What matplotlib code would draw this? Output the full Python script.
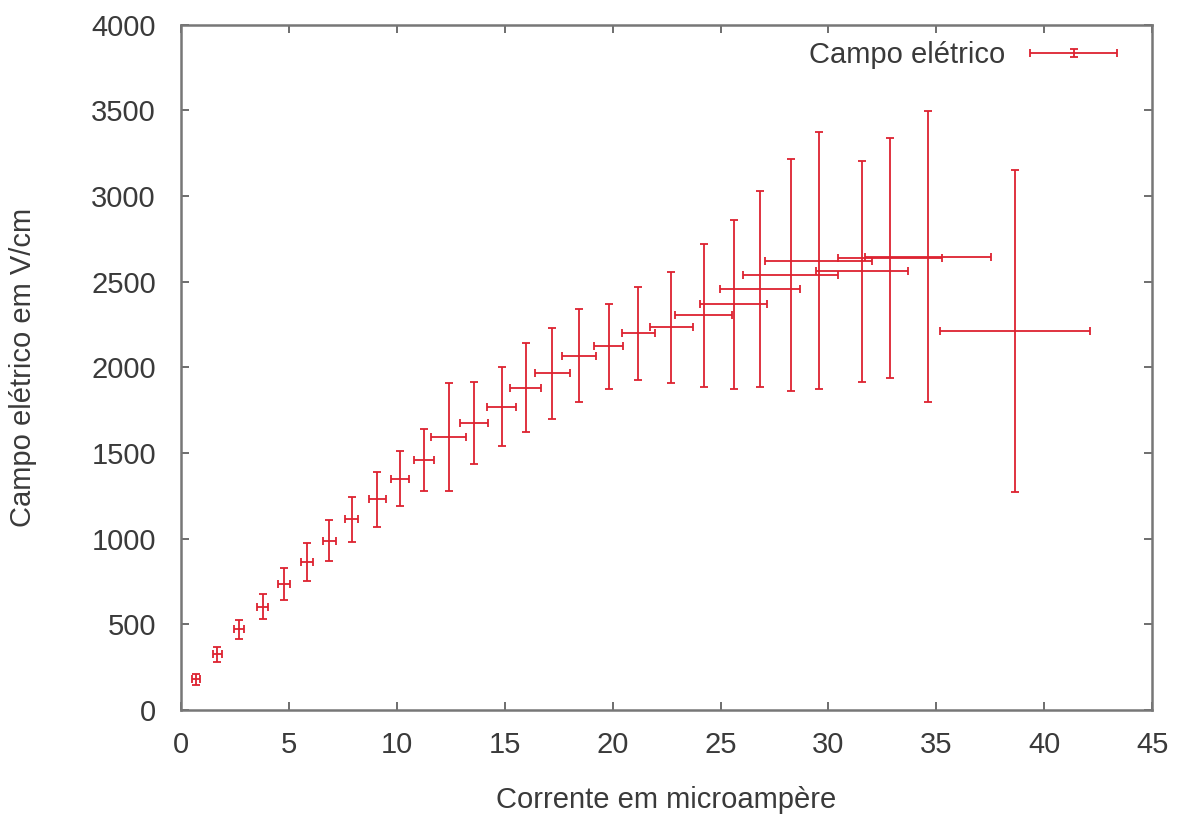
import matplotlib
matplotlib.use("Agg")
import matplotlib.pyplot as plt
from matplotlib.container import ErrorbarContainer
from matplotlib.legend_handler import HandlerErrorbar

plt.rcParams['font.family'] = ['Liberation Sans', 'DejaVu Sans']

# corrente (microampère) e campo elétrico (V/cm) com as incertezas
corrente = [0.69, 1.68, 2.69, 3.78, 4.78, 5.85, 6.87, 7.90, 9.10, 10.14,
            11.25, 12.40, 13.58, 14.85, 15.97, 17.21, 18.43, 19.81, 21.19, 22.72,
            24.21, 25.60, 26.84, 28.24, 29.55, 31.54, 32.86, 34.62, 38.64]
campo = [179, 327, 471, 603, 738, 864, 989, 1113, 1230, 1351,
         1460, 1592, 1675, 1771, 1882, 1966, 2067, 2122, 2200, 2235,
         2303, 2367, 2455, 2540, 2622, 2560, 2640, 2645, 2214]
erro_campo = [34, 44, 54, 73, 93, 110, 119, 131, 159, 159,
              179, 315, 240, 232, 260, 265, 271, 248, 272, 324,
              416, 494, 572, 678, 749, 643, 699, 849, 939]
erro_corrente = [0.20, 0.20, 0.25, 0.27, 0.27, 0.27, 0.31, 0.31, 0.39, 0.41,
                 0.46, 0.81, 0.66, 0.66, 0.72, 0.83, 0.79, 0.66, 0.77, 1.00,
                 1.31, 1.54, 1.85, 2.22, 2.48, 2.13, 2.40, 2.92, 3.47]

texto = '#3a3a3a'
vermelho = '#dd2230'
fs = 21

fig = plt.figure(figsize=(11.83, 8.21), dpi=100)
ax = fig.add_axes([0.153, 0.135, 0.821, 0.835])

ax.errorbar(corrente, campo, xerr=erro_corrente, yerr=erro_campo,
            fmt='none', ecolor=vermelho, elinewidth=1.3, capsize=3,
            capthick=1.3, label='Campo elétrico')

ax.set_xlim(0, 45)
ax.set_ylim(0, 4000)
ax.set_xticks(range(0, 46, 5))
ax.set_yticks(range(0, 4001, 500))

ax.tick_params(direction='in', top=True, right=True, length=6, width=1.2,
               colors='#555555', labelcolor=texto, labelsize=fs)
ax.tick_params(axis='x', pad=15)
ax.tick_params(axis='y', pad=18)
for s in ax.spines.values():
    s.set_color('#777777')
    s.set_linewidth(1.8)

ax.set_xlabel('Corrente em microampère', fontsize=fs, color=texto)
ax.set_ylabel('Campo elétrico em V/cm', fontsize=fs, color=texto)
ax.xaxis.set_label_coords(0.5, -0.111)
ax.yaxis.set_label_coords(-0.148, 0.5)

# amostra da legenda: barra horizontal com um pequeno traço central
leg = ax.legend(loc='upper right', bbox_to_anchor=(0.976, 0.993),
                borderaxespad=0, frameon=False, fontsize=fs,
                markerfirst=False, handlelength=3.0, handletextpad=0.85,
                handler_map={ErrorbarContainer: HandlerErrorbar(xerr_size=1.5, yerr_size=0.15)})
for t in leg.get_texts():
    t.set_color(texto)

fig.savefig('out.png', dpi=100)
